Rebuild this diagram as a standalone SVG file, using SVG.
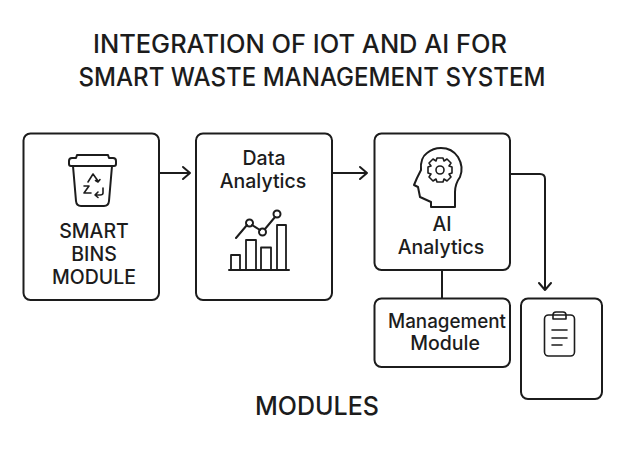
<svg xmlns="http://www.w3.org/2000/svg" width="633" height="450" viewBox="0 0 633 450">
<style>
.box{fill:#fff;stroke:#1c1c1c;stroke-width:2}
.ln{fill:none;stroke:#1c1c1c;stroke-width:2;stroke-linecap:round;stroke-linejoin:round}
.sm{fill:none;stroke:#1c1c1c;stroke-width:1.600;stroke-linecap:round;stroke-linejoin:round}
.thin{fill:#fff;stroke:#1c1c1c;stroke-width:1.800;stroke-linejoin:round;stroke-linecap:round}
text{font-family:Inter,"Liberation Sans",sans-serif;fill:#1c1c1c;text-anchor:middle}
.t{font-size:25px;font-weight:500}
.l{font-size:19.500px;font-weight:500}
</style>
<rect width="633" height="450" fill="#fff"/>
<g id="title">
<text class="t" x="300" y="53" textLength="414" lengthAdjust="spacingAndGlyphs">INTEGRATION OF IOT AND AI FOR</text>
<text class="t" x="312" y="86" textLength="467" lengthAdjust="spacingAndGlyphs">SMART WASTE MANAGEMENT SYSTEM</text>
</g>
<g id="connectors">
<path class="ln" d="M159 173H190M183 167L190 173L183 179"/>
<path class="ln" d="M332 173H367M360 167L367 173L360 179"/>
<path class="ln" d="M510 174H540Q545 174 545 179V290M539 283L545 290L551 283"/>
<path class="ln" d="M442 270V298"/>
</g>
<g id="smart-bins">
<rect class="box" x="23.500" y="133.500" width="135.500" height="166.500" rx="7"/>
<path class="ln" d="M71 166Q69 166 69 164V161Q69 158 72 158H76L77 155H108L109 158H113Q116 158 116 161V164Q116 166 114 166Z"/>
<path class="ln" d="M73 166L76 201Q76.500 206 81 206H104Q108.500 206 109 201L112 166"/>
<path class="sm" d="M88 182L93 174L98 181M95.500 180.500L98 182L100 179.500"/>
<path class="sm" d="M84 186H89L84 193H91"/>
<path class="sm" d="M103 188V193Q103 195 100 195H95M98 192L95 195L98 197.500"/>
<text class="l" x="94" y="238">SMART</text>
<text class="l" x="94" y="261">BINS</text>
<text class="l" x="94" y="284">MODULE</text>
</g>
<g id="data-analytics">
<rect class="box" x="196" y="133.500" width="136" height="166.500" rx="7"/>
<text class="l" x="264" y="165">Data</text>
<text class="l" x="263" y="188">Analytics</text>
<path class="ln" d="M229 270H289"/>
<rect class="thin" x="231" y="255" width="9" height="15"/>
<rect class="thin" x="246" y="240" width="10" height="30"/>
<rect class="thin" x="261" y="247.500" width="10" height="22.500"/>
<rect class="thin" x="277" y="225" width="9" height="45"/>
<path class="ln" d="M236 238L247 225M252 225L260 230M265 229L275 217"/>
<circle class="ln" cx="249.500" cy="223" r="3.500"/>
<circle class="ln" cx="262.500" cy="232" r="3.500"/>
<circle class="ln" cx="277" cy="214" r="3.500"/>
</g>
<g id="ai-analytics">
<rect class="box" x="374.500" y="133.500" width="135.500" height="136.500" rx="7"/>
<path class="ln" d="M431 207V202L420 197Q419 192 418 187L414 185L417 178L421 170Q420 158 427 153Q433 148 441 148Q452 148 458 157Q464 167 460 177Q455 184 455 192V207Z"/>
<circle class="sm" cx="440" cy="170" r="4"/>
<path class="sm" d="M437 158H443L444 161L447 159L451 163L449 166L452 167V173L449 174L451 177L447 181L444 179L443 182H437L436 179L433 181L429 177L431 174L428 173V167L431 166L429 163L433 159L436 161Z"/>
<text class="l" x="442" y="231">AI</text>
<text class="l" x="441" y="254">Analytics</text>
</g>
<g id="management-module">
<rect class="box" x="374.500" y="298.500" width="135.500" height="68.500" rx="7"/>
<text class="l" x="447" y="328" textLength="118" lengthAdjust="spacingAndGlyphs">Management</text>
<text class="l" x="445" y="350">Module</text>
</g>
<g id="clipboard">
<rect class="box" x="521" y="298.500" width="81" height="100.500" rx="7"/>
<rect class="sm" x="544.500" y="315" width="30" height="41" rx="4"/>
<path class="sm" d="M553 319V315Q553 312 556 312H563Q566 312 566 315V319Z"/>
<path class="sm" d="M552 330H567M552 338H567M552 345H562"/>
</g>
<text id="modules" x="317" y="415" font-size="25" font-weight="500">MODULES</text>
</svg>
